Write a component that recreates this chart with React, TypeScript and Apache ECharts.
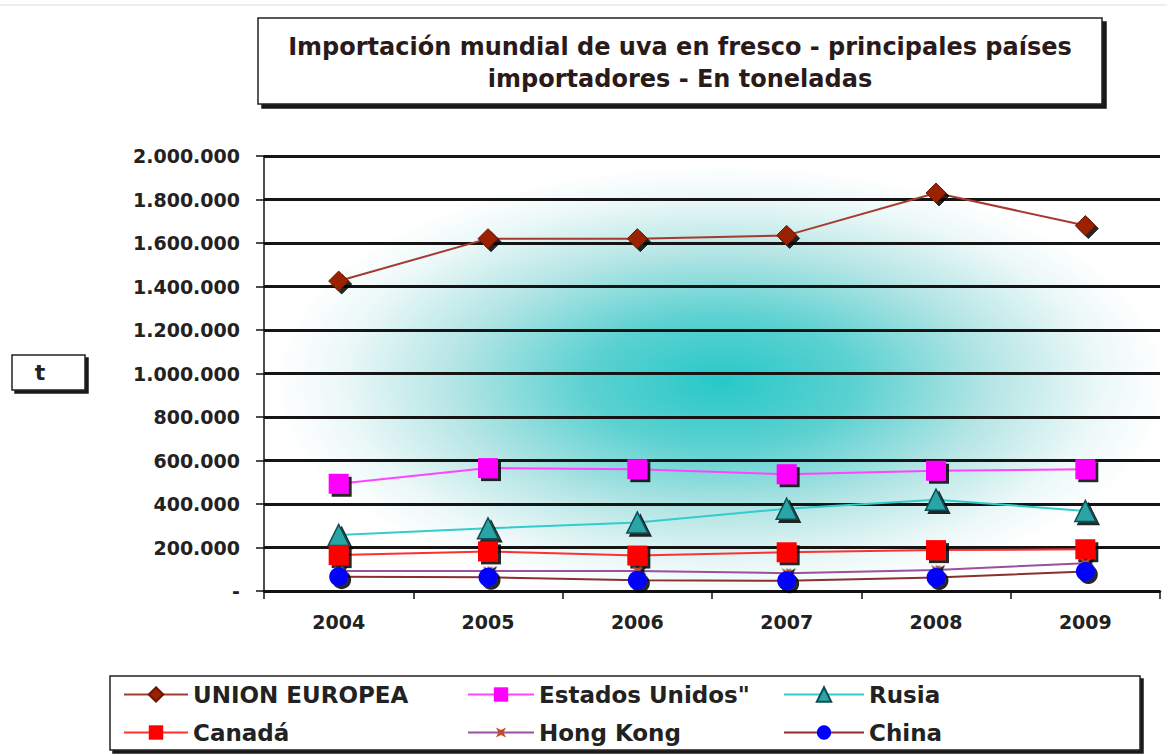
import React, { useEffect, useRef } from "react";
import * as echarts from "echarts";

const years = ["2004", "2005", "2006", "2007", "2008", "2009"];
const unionEuropea = [1425000, 1620000, 1620000, 1635000, 1830000, 1680000];
const estadosUnidos = [493000, 565000, 560000, 537000, 553000, 560000];
const rusia = [258000, 288000, 315000, 378000, 420000, 368000];
const canada = [165000, 182000, 163000, 178000, 188000, 192000];
const hongKong = [92000, 92000, 92000, 82000, 97000, 128000];
const china = [66000, 63000, 49000, 47000, 62000, 90000];
const seriesNames = ["UNION EUROPEA", "Estados Unidos\"", "Rusia", "Canadá", "Hong Kong", "China"];
const titleLines = ["Importación mundial de uva en fresco - principales países", "importadores - En toneladas"];
const yAxisName = "t";

const FONT = "DejaVu Sans";
const shadow = { shadowColor: "rgba(0,0,0,0.85)", shadowOffsetX: 3, shadowOffsetY: 3, shadowBlur: 1 };

function fmt(v: number): string {
  if (v === 0) return "-";
  return String(v).replace(/\B(?=(\d{3})+(?!\d))/g, ".");
}

export default function App() {
  const ref = useRef<HTMLDivElement>(null);
  useEffect(() => {
    if (!ref.current) return;
    const chart = echarts.init(ref.current, undefined, { renderer: "svg" });
    const mkLegend = (name: string, left: number, top: number, w: number) => ({
      data: [name],
      left,
      top,
      itemWidth: w,
      itemHeight: 18,
      textStyle: { fontSize: 23, fontWeight: "bold", fontFamily: FONT, color: "#222" },
      selectedMode: false,
    });
    const star = "path://M5,0 L6.2,3.8 L10,5 L6.2,6.2 L5,10 L3.8,6.2 L0,5 L3.8,3.8 Z";
    chart.setOption({
      animation: false,
      backgroundColor: "#ffffff",
      grid: {
        left: 264,
        right: 7,
        top: 156,
        bottom: 163,
        show: true,
        borderWidth: 0,
        backgroundColor: new echarts.graphic.RadialGradient(0.51, 0.52, 0.5, [
          { offset: 0, color: "#28c8c8" },
          { offset: 0.3, color: "#5cd1d1" },
          { offset: 0.6, color: "#b5e5e5" },
          { offset: 0.85, color: "#ecf8f8" },
          { offset: 1, color: "#ffffff" },
        ]),
      },
      legend: [
        mkLegend(seriesNames[0], 118, 678, 64),
        mkLegend(seriesNames[1], 462, 678, 66),
        mkLegend(seriesNames[2], 778, 678, 80),
        mkLegend(seriesNames[3], 118, 716, 64),
        mkLegend(seriesNames[4], 462, 716, 66),
        mkLegend(seriesNames[5], 778, 716, 80),
      ],
      xAxis: {
        type: "category",
        data: years,
        boundaryGap: true,
        axisLine: { lineStyle: { color: "#111", width: 2.5 } },
        axisTick: { show: true, length: 8, lineStyle: { color: "#111", width: 1.5 } },
        axisLabel: { fontSize: 19, fontWeight: "bold", fontFamily: FONT, color: "#222", margin: 21 },
      },
      yAxis: {
        type: "value",
        min: 0,
        max: 2000000,
        interval: 200000,
        axisLine: { show: true, lineStyle: { color: "#111", width: 1.5 } },
        axisTick: { show: true, length: 8, lineStyle: { color: "#111", width: 1.5 } },
        axisLabel: {
          fontSize: 19,
          fontWeight: "bold",
          fontFamily: FONT,
          color: "#222",
          margin: 24,
          formatter: (v: number) => fmt(v),
        },
        splitLine: {
          show: true,
          lineStyle: { color: "#151515", width: 3 },
        },
      },
      series: [
        {
          name: seriesNames[0],
          type: "line",
          data: unionEuropea,
          symbol: "diamond",
          symbolSize: 20,
          lineStyle: { color: "#a53a30", width: 2 },
          itemStyle: { color: "#9b2200", borderColor: "#6b1500", borderWidth: 1, ...shadow },
        },
        {
          name: seriesNames[1],
          type: "line",
          data: estadosUnidos,
          symbol: "rect",
          symbolSize: 20,
          lineStyle: { color: "#ff44ff", width: 2 },
          itemStyle: { color: "#ff00ff", ...shadow },
        },
        {
          name: seriesNames[2],
          type: "line",
          data: rusia,
          symbol: "triangle",
          symbolSize: 21,
          lineStyle: { color: "#33cccc", width: 2 },
          itemStyle: { color: "#2aa5a5", borderColor: "#0d4d55", borderWidth: 1.5, ...shadow },
        },
        {
          name: seriesNames[3],
          type: "line",
          data: canada,
          symbol: "rect",
          symbolSize: 20,
          lineStyle: { color: "#ff3030", width: 2 },
          itemStyle: { color: "#ff0000", ...shadow },
        },
        {
          name: seriesNames[4],
          type: "line",
          data: hongKong,
          symbol: star,
          symbolSize: 14,
          symbolRotate: 45,
          lineStyle: { color: "#9a4fa0", width: 2 },
          itemStyle: { color: "#c44a2a", ...shadow },
        },
        {
          name: seriesNames[5],
          type: "line",
          data: china,
          symbol: "circle",
          symbolSize: 19,
          lineStyle: { color: "#8b2f2f", width: 2 },
          itemStyle: { color: "#0000ff", ...shadow },
        },
      ],
      graphic: [
        { type: "line", shape: { x1: 0, y1: 5, x2: 1167, y2: 5 }, style: { stroke: "#dddddd", lineWidth: 1 } },
        {
          type: "rect",
          shape: { x: 258, y: 18, width: 844, height: 86 },
          style: { fill: "#fff", stroke: "#222", lineWidth: 1.5, shadowColor: "rgba(0,0,0,0.9)", shadowOffsetX: 4, shadowOffsetY: 4, shadowBlur: 1 },
        },
        {
          type: "text",
          x: 680,
          y: 47,
          style: { text: titleLines[0], font: `bold 24px "${FONT}"`, fill: "#2a1a1a", align: "center", verticalAlign: "middle" },
        },
        {
          type: "text",
          x: 680,
          y: 79,
          style: { text: titleLines[1], font: `bold 24px "${FONT}"`, fill: "#2a1a1a", align: "center", verticalAlign: "middle" },
        },
        {
          type: "rect",
          shape: { x: 12, y: 355, width: 73, height: 35 },
          style: { fill: "#fff", stroke: "#222", lineWidth: 1.5, shadowColor: "rgba(0,0,0,0.9)", shadowOffsetX: 3, shadowOffsetY: 3, shadowBlur: 1 },
        },
        {
          type: "text",
          x: 40,
          y: 372,
          style: { text: yAxisName, font: `bold 22px "${FONT}"`, fill: "#222", align: "center", verticalAlign: "middle" },
        },
        {
          type: "rect",
          z: -1,
          shape: { x: 110, y: 676, width: 1030, height: 74 },
          style: { fill: "#fff", stroke: "#222", lineWidth: 1.5, shadowColor: "rgba(0,0,0,0.9)", shadowOffsetX: 3, shadowOffsetY: 3, shadowBlur: 1 },
        },
      ],
    });
    return () => chart.dispose();
  }, []);
  return (
    <div
      ref={ref}
      style={{ position: "absolute", left: 0, top: 0, width: 1167, height: 754, background: "#fff" }}
    />
  );
}
